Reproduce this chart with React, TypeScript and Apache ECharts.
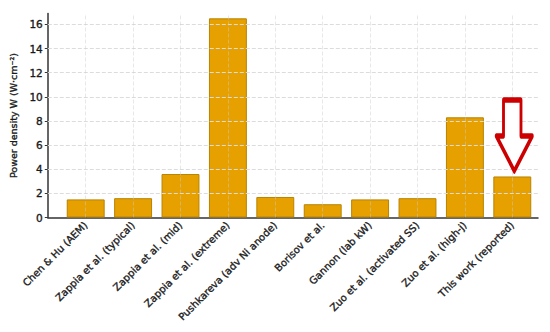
import React, { useEffect, useRef } from "react";
import * as echarts from "echarts";

const CATEGORIES = [
  "Chen & Hu (AEM)",
  "Zappia et al. (typical)",
  "Zappia et al. (mid)",
  "Zappia et al. (extreme)",
  "Pushkareva (adv Ni anode)",
  "Borisov et al.",
  "Gannon (lab kW)",
  "Zuo et al. (activated SS)",
  "Zuo et al. (high-j)",
  "This work (reported)",
];
const VALUES = [1.5, 1.6, 3.6, 16.5, 1.7, 1.1, 1.5, 1.6, 8.3, 3.4];
const Y_TICKS = [2, 4, 6, 8, 10, 12, 14, 16];
const HIGHLIGHT = "This work (reported)";
const Y_MAX = 16.9;

const FONT = "DejaVu Sans";
const TEXT_THICK = { textBorderColor: "#222", textBorderWidth: 0.35 };

export default function App() {
  const ref = useRef<HTMLDivElement>(null);
  useEffect(() => {
    if (!ref.current) return;
    const chart = echarts.init(ref.current, null, { renderer: "svg" });
    const hlIdx = CATEGORIES.indexOf(HIGHLIGHT);
    chart.setOption({
      animation: false,
      backgroundColor: "#ffffff",
      grid: [
        { left: 42, right: 12, top: 13.5, bottom: 114.5 },
        { left: 62, right: 14, top: 13.5, bottom: 114.5 },
      ],
      xAxis: [
        {
          type: "value",
          gridIndex: 0,
          min: 0,
          max: 1,
          axisLine: { show: true, lineStyle: { color: "#333", width: 1.5 } },
          axisTick: { show: false },
          axisLabel: { show: false },
          splitLine: { show: false },
        },
        {
          type: "category",
          gridIndex: 1,
          data: CATEGORIES,
          axisLine: { show: false },
          axisTick: {
            show: true,
            alignWithLabel: true,
            inside: true,
            length: 2,
            lineStyle: { color: "#222", width: 1.5 },
          },
          axisLabel: {
            rotate: 45,
            interval: 0,
            margin: 6,
            fontFamily: FONT,
            fontSize: 10,
            color: "#1a1a1a",
            ...TEXT_THICK,
          },
          splitLine: { show: false },
        },
      ],
      yAxis: [
        {
          type: "value",
          gridIndex: 0,
          min: 0,
          max: Y_MAX,
          interval: 2,
          name: "Power density W (W·cm⁻²)",
          nameLocation: "middle",
          nameGap: 20,
          nameTextStyle: { fontFamily: FONT, fontSize: 9.5, color: "#1a1a1a", ...TEXT_THICK },
          axisLine: { show: true, lineStyle: { color: "#333", width: 1.5 } },
          axisTick: { show: true, length: 3, lineStyle: { color: "#333" } },
          axisLabel: {
            fontFamily: FONT,
            fontSize: 10.5,
            color: "#1a1a1a",
            margin: 5,
            showMaxLabel: false,
            ...TEXT_THICK,
            formatter: (v: number) => (Math.abs(v % 2) < 1e-9 ? String(v) : ""),
          },
          splitLine: { show: false },
        },
        {
          type: "value",
          gridIndex: 1,
          min: 0,
          max: Y_MAX,
          show: false,
        },
      ],
      series: [
        {
          type: "line",
          xAxisIndex: 0,
          yAxisIndex: 0,
          data: [
            [0, 0],
            [1, 0],
          ],
          symbol: "none",
          lineStyle: { width: 0, opacity: 0 },
          silent: true,
          markLine: {
            silent: true,
            symbol: "none",
            label: { show: false },
            lineStyle: { color: "#dcdcdc", type: [4, 2], width: 1 },
            data: Y_TICKS.map((t) => ({ yAxis: t })),
          },
        },
        {
          type: "bar",
          xAxisIndex: 1,
          yAxisIndex: 1,
          data: VALUES,
          barWidth: "80%",
          itemStyle: { color: "#E6A000", borderColor: "#B88300", borderWidth: 1 },
          markLine: {
            silent: true,
            symbol: "none",
            label: { show: false },
            lineStyle: { color: "rgba(205,205,205,0.45)", type: [4, 2], width: 1 },
            data: CATEGORIES.map((c) => ({ xAxis: c })),
          },
          markPoint: {
            silent: true,
            label: { show: false },
            data: [
              {
                coord: [hlIdx, VALUES[hlIdx]],
                symbol: "path://M7,0 L24,0 L24,36 L35,36 L17.5,71 L0,36 L7,36 Z",
                symbolSize: [36, 71],
                symbolKeepAspect: false,
                symbolOffset: [2, -41],
                itemStyle: {
                  color: "#ffffff",
                  borderColor: "#cc0000",
                  borderWidth: 4,
                  borderJoin: "round",
                },
              },
            ],
          },
        },
      ],
    });
    return () => chart.dispose();
  }, []);
  return (
    <div
      ref={ref}
      style={{ position: "fixed", left: 0, top: 0, width: 550, height: 332 }}
    />
  );
}
